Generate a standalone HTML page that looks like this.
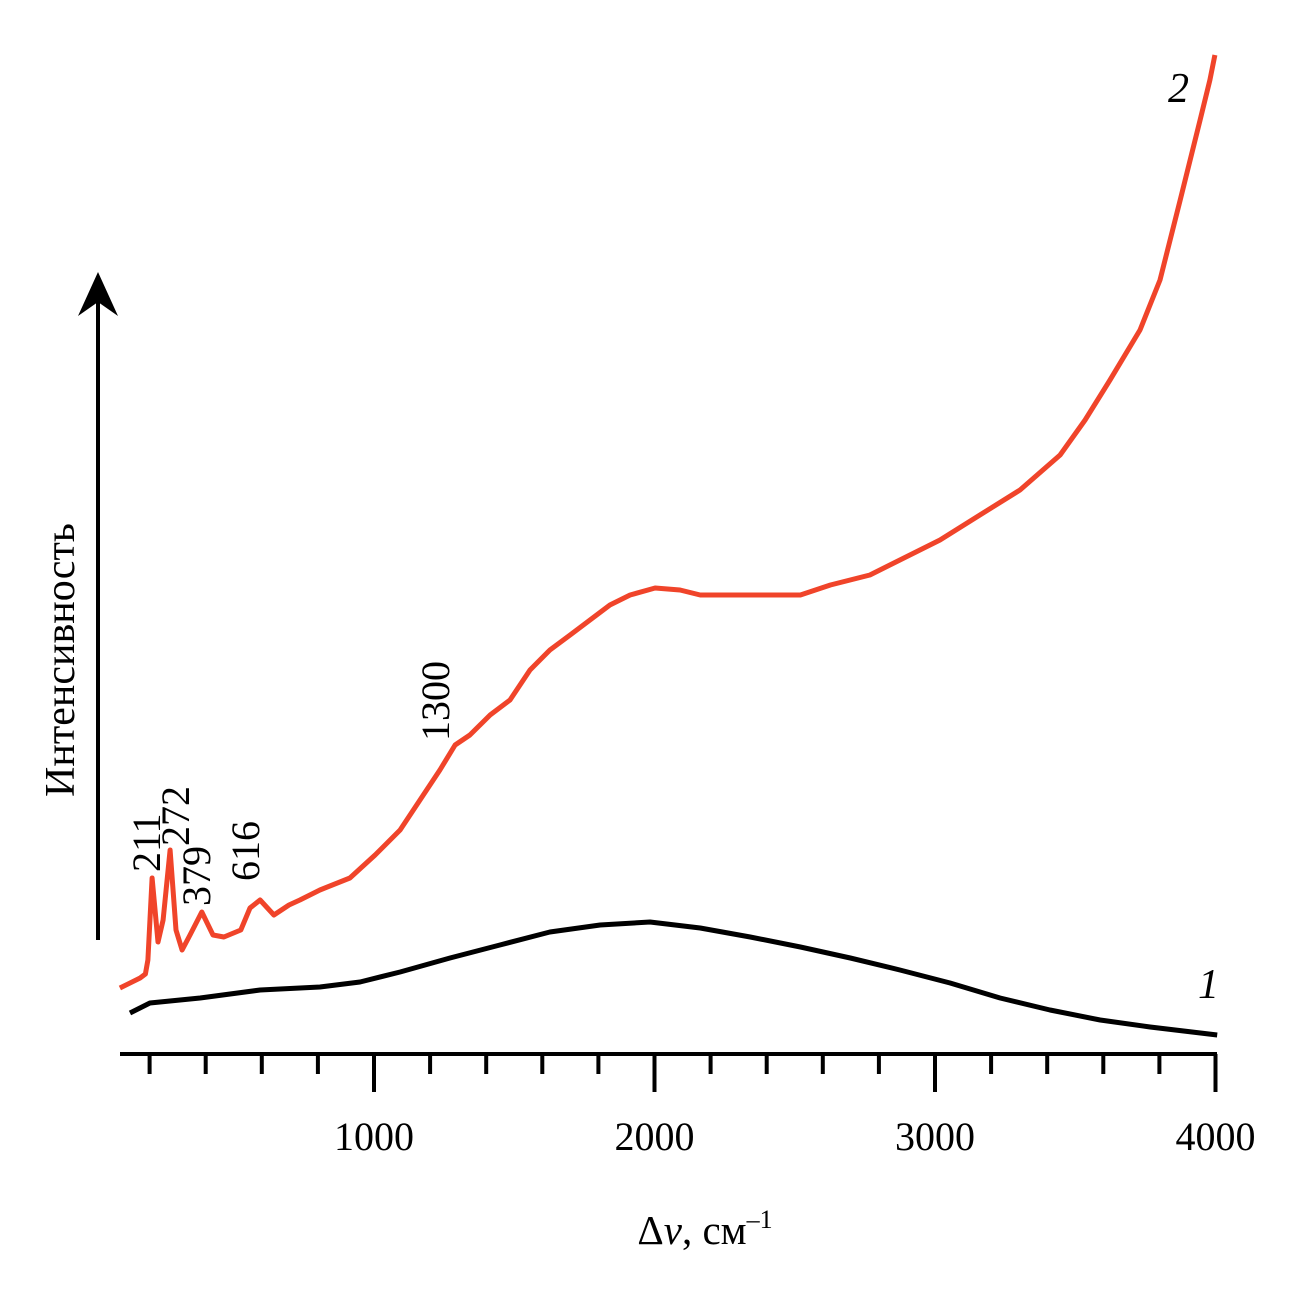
<!DOCTYPE html>
<html><head><meta charset="utf-8"><style>
body{margin:0;background:#fff}
svg text{font-family:"Liberation Serif",serif;fill:#000}
</style></head><body>
<svg width="1291" height="1287" viewBox="0 0 1291 1287">
<g id="axes"></g><g id="series"></g>
<text x="1168" y="102" font-size="42" font-style="italic">2</text>
<text x="1198" y="998" font-size="42" font-style="italic">1</text>
<text transform="translate(74,660) rotate(-90)" font-size="42" text-anchor="middle">Интенсивность</text>
<text x="705" y="1244" font-size="41" text-anchor="middle">Δ<tspan font-style="italic">ν</tspan>, см<tspan font-size="26" dy="-16">–1</tspan></text>
<line x1="98" y1="940" x2="98" y2="300" stroke="#000" stroke-width="4"/>
<polygon points="98,272 78,316 98,302 118,316" fill="#000"/>
<text transform="translate(160,872) rotate(-90)" font-size="40">211</text>
<text transform="translate(189,846) rotate(-90)" font-size="40">272</text>
<text transform="translate(210,906) rotate(-90)" font-size="40">379</text>
<text transform="translate(259,881) rotate(-90)" font-size="40">616</text>
<text transform="translate(449,741) rotate(-90)" font-size="40">1300</text>
</svg>
<script>
const redX=[94,166,185,194,209,230,248,273,294,316,344,386,426,465,525,558,594,643,697,736,807,914,1004,1093,1164,1235,1289,1342,1414,1485,1556,1627,1699,1770,1841,1913,2002,2091,2163,2341,2520,2627,2768,2875,3018,3160,3303,3446,3535,3624,3731,3802,3874,3945,3980,3998];
const redY=[64,74,78,92,174,110,132,202,122,102,117,140,117,115,122,144,152,137,147,152,162,174,197,222,252,282,307,317,337,352,382,402,417,432,447,457,464,462,457,457,457,467,477,492,512,537,562,597,632,672,722,772,852,932,972,997];
const blackX=[130,201,380,594,807,950,1093,1271,1449,1627,1806,1984,2163,2341,2520,2698,2875,3054,3232,3410,3589,3767,4006];
const blackY=[39,49,54,62,65,70,80,94,107,120,127,130,124,115,105,94,82,69,54,42,32,25,17];
const xTicks=[200,400,600,800,1000,1200,1400,1600,1800,2000,2200,2400,2600,2800,3000,3200,3400,3600,3800,4000];
const xLabels=[1000,2000,3000,4000];
const X=v=>93.5+v*0.2805, Y=v=>1052-v;
const NS='http://www.w3.org/2000/svg';
const ax=document.getElementById('axes'), se=document.getElementById('series');
function mk(t,a,p){const e=document.createElementNS(NS,t);for(const k in a)e.setAttribute(k,a[k]);p.appendChild(e);return e;}
const base=mk('line',{x1:120,y1:1054,x2:1217,y2:1054,stroke:'#000','stroke-width':4},ax);


xTicks.forEach(t=>{const maj=t%1000===0;const l=mk('line',{x1:X(t),y1:1054,x2:X(t),y2:maj?1092:1074,stroke:'#000','stroke-width':4},ax);

});
xLabels.forEach(t=>{const tx=mk('text',{x:X(t),y:1150,'font-size':40,'text-anchor':'middle'},ax);tx.textContent=t;

});
function path(xs,ys,c,name){const d=xs.map((x,i)=>(i?'L':'M')+X(x).toFixed(1)+','+Y(ys[i]).toFixed(1)).join('');
const p=mk('path',{d:d,fill:'none',stroke:c,'stroke-width':5,'stroke-linejoin':'round'},se);

}
path(blackX,blackY,'#000','series-1-line');
path(redX,redY,'#f0442a','series-2-line');
</script>
</body></html>
